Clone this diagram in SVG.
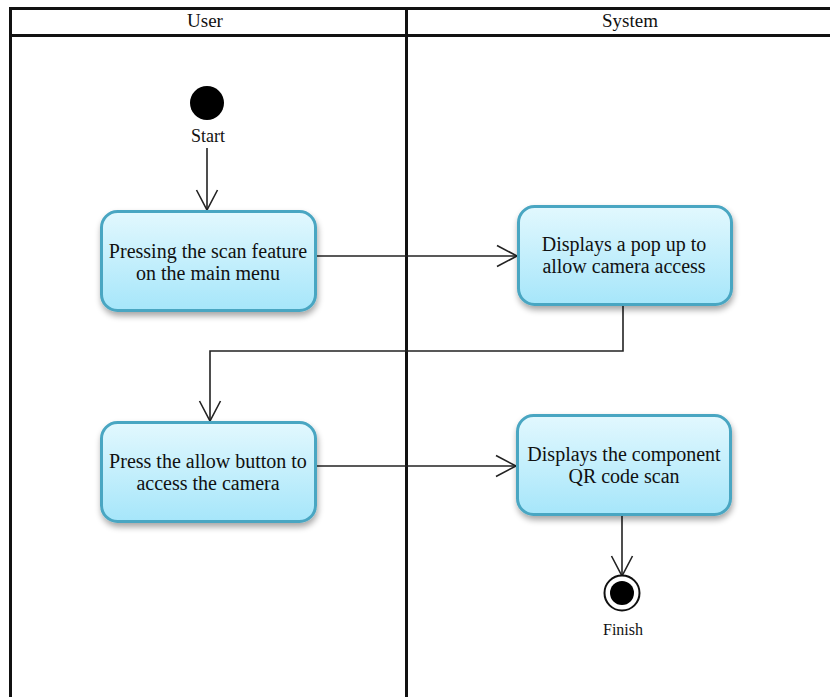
<svg xmlns="http://www.w3.org/2000/svg" width="830" height="697" viewBox="0 0 830 697">
<style>
.frame{stroke:#111;stroke-width:3;fill:none}
.lbl{fill:#111;text-anchor:middle}
.node rect{fill:url(#g);stroke:#4aa6c2;stroke-width:3;filter:url(#sh)}
.conn{stroke:#222;stroke-width:1.6;fill:none;marker-end:url(#arr)}
</style>
<defs>
<linearGradient id="g" x1="0" y1="0" x2="0" y2="1">
<stop offset="0" stop-color="#e2f8fe"/>
<stop offset="1" stop-color="#a6e6fa"/>
</linearGradient>
<filter id="sh" x="-10%" y="-10%" width="125%" height="130%">
<feGaussianBlur in="SourceAlpha" stdDeviation="3"/>
<feOffset dx="1" dy="4" result="b"/>
<feComponentTransfer><feFuncA type="linear" slope="0.35"/></feComponentTransfer>
<feMerge><feMergeNode/><feMergeNode in="SourceGraphic"/></feMerge>
</filter>
<marker id="arr" markerWidth="24" markerHeight="24" refX="21" refY="12" orient="auto" markerUnits="userSpaceOnUse">
<path d="M1,1.5 L21,12 L1,22.5" fill="none" stroke="#222" stroke-width="1.6"/>
</marker>
</defs>
<rect width="830" height="697" fill="#fff"/>
<g id="lanes" font-family="Liberation Serif, serif" font-size="19">
<line class="frame" x1="10" y1="8.5" x2="830" y2="8.5"/>
<line class="frame" x1="10" y1="35.5" x2="830" y2="35.5"/>
<line class="frame" x1="10.5" y1="7" x2="10.5" y2="697"/>
<line class="frame" x1="406.5" y1="7" x2="406.5" y2="697"/>
<text class="lbl" x="205" y="27">User</text>
<text class="lbl" x="630" y="27">System</text>
</g>
<g id="connectors">
<line class="conn" x1="207" y1="148" x2="207" y2="210"/>
<line class="conn" x1="316" y1="256" x2="517" y2="256"/>
<polyline class="conn" points="623,306 623,351 210,351 210,421"/>
<line class="conn" x1="316" y1="466" x2="516" y2="466"/>
<line class="conn" x1="622" y1="516" x2="622" y2="576"/>
</g>
<g id="start">
<circle cx="207" cy="103" r="17" fill="#000"/>
<text class="lbl" x="208" y="142" font-size="18" font-family="Liberation Serif, serif">Start</text>
</g>
<g id="n1" class="node" font-family="Liberation Serif, serif" font-size="20">
<rect x="101.5" y="211.5" width="214" height="99" rx="16"/>
<text class="lbl" x="208" y="258">Pressing the scan feature</text>
<text class="lbl" x="208" y="280">on the main menu</text>
</g>
<g id="n2" class="node" font-family="Liberation Serif, serif" font-size="20">
<rect x="518.5" y="206.5" width="213" height="98" rx="16"/>
<text class="lbl" x="624" y="251">Displays a pop up to</text>
<text class="lbl" x="624" y="273">allow camera access</text>
</g>
<g id="n3" class="node" font-family="Liberation Serif, serif" font-size="20">
<rect x="101.5" y="422.5" width="214" height="99" rx="16"/>
<text class="lbl" x="208" y="468">Press the allow button to</text>
<text class="lbl" x="208" y="490">access the camera</text>
</g>
<g id="n4" class="node" font-family="Liberation Serif, serif" font-size="20">
<rect x="517.5" y="415.5" width="213" height="99" rx="16"/>
<text class="lbl" x="624" y="461">Displays the component</text>
<text class="lbl" x="624" y="483">QR code scan</text>
</g>
<g id="finish">
<circle cx="622" cy="593" r="17.5" fill="#fff" stroke="#111" stroke-width="2"/>
<circle cx="622" cy="593" r="12" fill="#000"/>
<text class="lbl" x="623" y="635" font-size="16" font-family="Liberation Serif, serif">Finish</text>
</g>
</svg>
